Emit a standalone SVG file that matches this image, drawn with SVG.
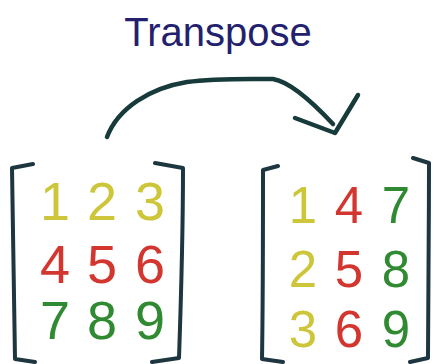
<svg xmlns="http://www.w3.org/2000/svg" width="434" height="364" viewBox="0 0 434 364">
<style>
.title{font-family:"Liberation Sans",Arial,sans-serif;font-size:40px;fill:#23216e;text-anchor:middle}
.d{font-family:"Liberation Sans",Arial,sans-serif;text-anchor:middle}
.l{font-size:54px}
.r{font-size:51px}
.y{fill:#cdc53a}
.rd{fill:#d3362e}
.g{fill:#2f8a32}
.br{fill:none;stroke:#1d3640;stroke-width:4;stroke-linecap:round;stroke-linejoin:round}
.arr{fill:none;stroke:#173a3a;stroke-width:4.5;stroke-linecap:round;stroke-linejoin:round}
</style>
<rect width="434" height="364" fill="#ffffff"/>
<g id="title"><text class="title" x="218" y="46">Transpose</text></g>
<g id="connectors">
<path class="arr" d="M107,137 C118,108 150,88 187,82 C215,78 250,79 273,79 C292,82 318,108 333,124"/>
<path class="arr" d="M295,118 L335,133 L358,95"/>
</g>
<g id="matrix-a">
<path class="br" d="M33,164 L12,168 C13,230 14,300 15,359 L35,362"/>
<path class="br" d="M155,163 L183,168 C183,230 181,300 179,358 L152,362"/>
<text class="d l y" x="55" y="220">1</text>
<text class="d l y" x="102" y="220">2</text>
<text class="d l y" x="150" y="220">3</text>
<text class="d l rd" x="55" y="283">4</text>
<text class="d l rd" x="102" y="283">5</text>
<text class="d l rd" x="150" y="283">6</text>
<text class="d l g" x="55" y="339">7</text>
<text class="d l g" x="102" y="339">8</text>
<text class="d l g" x="150" y="339">9</text>
</g>
<g id="matrix-b">
<path class="br" d="M278,166 L263,170 C263,230 263,300 262,359 L283,362"/>
<path class="br" d="M413,158 L429,163 C429,230 428,300 428,358 L410,362"/>
<text class="d r y" x="303" y="223">1</text>
<text class="d r rd" x="349" y="223">4</text>
<text class="d r g" x="396" y="223">7</text>
<text class="d r y" x="303" y="287">2</text>
<text class="d r rd" x="349" y="287">5</text>
<text class="d r g" x="396" y="287">8</text>
<text class="d r y" x="303" y="347">3</text>
<text class="d r rd" x="349" y="347">6</text>
<text class="d r g" x="396" y="347">9</text>
</g>
</svg>
